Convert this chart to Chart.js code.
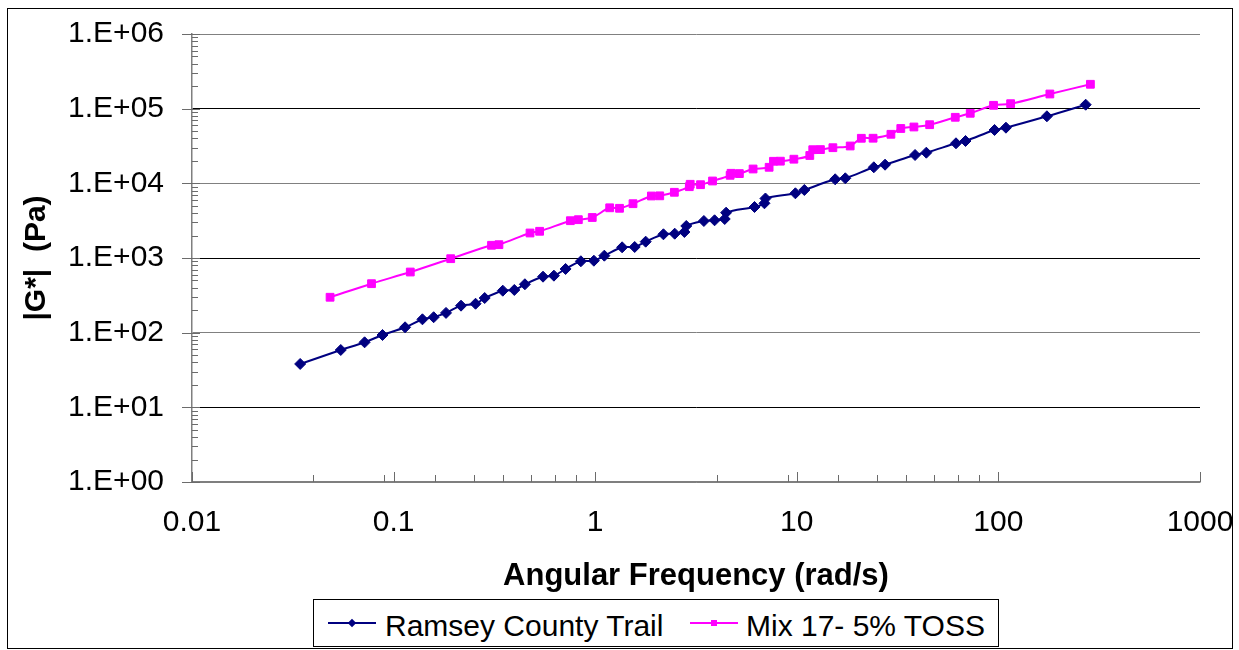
<!DOCTYPE html>
<html>
<head>
<meta charset="utf-8">
<script src="https://cdn.jsdelivr.net/npm/chart.js@4.4.0/dist/chart.umd.min.js"></script>
<style>
    html, body { margin: 0; padding: 0; background: #fff; }
    #wrap { position: relative; width: 1239px; height: 650px; overflow: hidden; font-family: 'Liberation Sans', Arial, sans-serif; }
    #box { position: absolute; left: 0; top: 0; width: 1239px; height: 650px; }
    #frame { position: absolute; left: 7px; top: 8px; width: 1226px; height: 641px; border: 1.5px solid #000; box-sizing: border-box; pointer-events: none; }
    #legend { position: absolute; left: 313px; top: 599px; width: 686px; height: 48px; border: 1px solid #000; box-sizing: border-box; background: #fff; }
    .item { position: absolute; top: 0; height: 46px; display: flex; align-items: center; font-size: 30px; color: #000; white-space: nowrap; }
    .item span { position: relative; top: 3px; }
    .sym { position: relative; width: 48px; height: 2px; }
    .sym i { position: absolute; left: 50%; top: 50%; width: 6px; height: 6px; margin: -3px 0 0 -3px; }
</style>
</head>
<body>
<div id="wrap">
    <div id="box"><canvas id="chart"></canvas></div>
    <div id="frame"></div>
    <div id="legend">
        <div class="item" style="left:14px">
            <div class="sym" style="background:#000080;margin-right:9px"><i style="background:#000080;transform:rotate(45deg)"></i></div>
            <span>Ramsey County Trail</span>
        </div>
        <div class="item" style="left:376px">
            <div class="sym" style="background:#ff00ff;margin-right:8px"><i style="background:#ff00ff"></i></div>
            <span>Mix 17- 5% TOSS</span>
        </div>
    </div>
</div>
<script>
// angular frequency (rad/s) and |G*| (Pa)
const ramseyFreq = [0.0344, 0.0547, 0.0718, 0.0881, 0.114, 0.139, 0.158, 0.182, 0.216, 0.255,
    0.283, 0.348, 0.397, 0.448, 0.551, 0.624, 0.713, 0.849, 0.985, 1.11,
    1.36, 1.57, 1.78, 2.18, 2.48, 2.77, 2.83, 3.46, 3.91, 4.39,
    4.46, 6.17, 6.91, 6.99, 9.84, 10.9, 15.5, 17.4, 24.1, 27.4,
    38.6, 43.9, 61.6, 68.7, 95.7, 109, 174, 271];
const ramseyG = [38.1, 58.6, 74.3, 93.1, 118, 151, 161, 184, 230, 244,
    291, 365, 373, 445, 562, 580, 713, 904, 920, 1074,
    1391, 1404, 1654, 2078, 2116, 2230, 2684, 3131, 3199, 3330,
    4045, 4822, 5404, 6266, 7357, 8143, 11330, 11680, 16400, 17770,
    23960, 25720, 34380, 36900, 51810, 55630, 79060, 113000];

const tossFreq = [0.0484, 0.0777, 0.121, 0.192, 0.306, 0.333, 0.475, 0.530, 0.753, 0.825,
    0.967, 1.18, 1.32, 1.54, 1.90, 2.09, 2.47, 2.93, 2.96, 3.33,
    3.82, 4.67, 4.72, 5.19, 6.07, 7.29, 7.66, 8.29, 9.67, 11.6,
    12.0, 13.1, 15.1, 18.4, 20.9, 23.9, 29.3, 32.8, 38.1, 45.6,
    61.1, 72.5, 94.6, 115, 180, 286];
const tossG = [298, 453, 649, 979, 1480, 1508, 2162, 2279, 3160, 3260,
    3487, 4702, 4631, 5338, 6767, 6800, 7586, 9016, 9708, 9590,
    10750, 12810, 13630, 13500, 15560, 16400, 19740, 19800, 21050, 23600,
    28220, 28300, 30010, 31630, 40110, 40200, 45380, 54260, 56830, 61000,
    76630, 86700, 110900, 116600, 157200, 212100];

// axis ranges and the (irregular) minor tick marks on the x axis
const xMin = 0.01, xMax = 1000;
const yMin = 1, yMax = 1e6;
const xMinorTicks = [0.04, 0.09, 0.16, 0.25, 0.35, 0.48, 0.63, 0.8, 4, 9, 16, 25, 35, 48, 63, 80];

const FONT = "'Liberation Sans', Arial, sans-serif";

function decadeExp(v) {
    const l = Math.log10(v);
    const e = Math.round(l);
    return Math.abs(l - e) < 1e-6 ? e : null;
}

function toPoints(xs, ys) {
    return xs.map((x, i) => ({ x, y: ys[i] }));
}

// excel style tick marks: majors cross the y axis, minors point inwards
const axisTicks = {
    id: 'axisTicks',
    afterDraw(chart) {
        const { ctx, chartArea: a, scales: { x, y } } = chart;
        ctx.save();
        ctx.strokeStyle = '#6b6b6b';
        ctx.lineWidth = 1;
        ctx.beginPath();
        for (let e = Math.log10(yMin); e <= Math.log10(yMax); e++) {
            const p = Math.round(y.getPixelForValue(Math.pow(10, e))) + 0.5;
            ctx.moveTo(a.left - 10, p); ctx.lineTo(a.left + 8, p);
            if (e < Math.log10(yMax)) {
                for (let m = 2; m <= 9; m++) {
                    const q = Math.round(y.getPixelForValue(m * Math.pow(10, e))) + 0.5;
                    ctx.moveTo(a.left, q); ctx.lineTo(a.left + 6, q);
                }
            }
        }
        for (let e = Math.log10(xMin); e <= Math.log10(xMax); e++) {
            const p = Math.round(x.getPixelForValue(Math.pow(10, e))) + 0.5;
            ctx.moveTo(p, a.bottom); ctx.lineTo(p, a.bottom - 10);
        }
        xMinorTicks.forEach(v => {
            const p = Math.round(x.getPixelForValue(v)) + 0.5;
            ctx.moveTo(p, a.bottom); ctx.lineTo(p, a.bottom - 7);
        });
        ctx.stroke();
        ctx.restore();
    },
};

new Chart(document.getElementById('chart'), {
    type: 'line',
    data: {
        datasets: [{
            label: 'Ramsey County Trail',
            data: toPoints(ramseyFreq, ramseyG),
            borderColor: '#000080',
            backgroundColor: '#000080',
            borderWidth: 2,
            pointStyle: 'rectRot',
            pointRadius: 5.5,
            pointBorderWidth: 1,
            tension: 0.35,
        }, {
            label: 'Mix 17- 5% TOSS',
            data: toPoints(tossFreq, tossG),
            borderColor: '#ff00ff',
            backgroundColor: '#ff00ff',
            borderWidth: 2,
            pointStyle: 'rect',
            pointRadius: 5.5,
            pointBorderWidth: 1,
            tension: 0.35,
        }],
    },
    options: {
        responsive: true, maintainAspectRatio: false,
        animation: false,
        layout: { padding: { left: 0, right: 39, top: 34, bottom: 0 } },
        plugins: { legend: { display: false }, tooltip: { enabled: false } },
        scales: {
            x: {
                type: 'logarithmic', min: xMin, max: xMax,
                afterFit: s => { s.height = 168; s.paddingLeft = 0; s.paddingRight = 0; },
                grid: { drawTicks: false, color: 'rgba(0,0,0,0)' },
                border: { color: '#7f7f7f', width: 1.5 },
                ticks: {
                    autoSkip: false, maxRotation: 0, padding: 23, color: '#000',
                    font: { family: FONT, size: 30 },
                    callback: v => {
                        const e = decadeExp(v);
                        if (e === null) return '';
                        return e < 0 ? Math.pow(10, e).toFixed(-e) : String(Math.pow(10, e));
                    },
                },
                title: {
                    display: true, text: 'Angular Frequency (rad/s)', color: '#000',
                    font: { family: FONT, size: 31, weight: 'bold' },
                    padding: { top: 0, bottom: 55 },
                },
            },
            y: {
                type: 'logarithmic', min: yMin, max: yMax,
                afterFit: s => { s.width = 192; s.paddingTop = 0; s.paddingBottom = 0; },
                grid: {
                    drawTicks: false, lineWidth: 1,
                    color: ctx => {
                        const e = decadeExp(ctx.tick.value);
                        if (e === null) return 'rgba(0,0,0,0)';
                        return e % 2 ? '#000' : '#808080';
                    },
                },
                border: { color: '#7f7f7f', width: 1.5 },
                ticks: {
                    autoSkip: false, padding: 28, color: '#000',
                    font: { family: FONT, size: 30 },
                    callback: v => {
                        const e = decadeExp(v);
                        return e === null ? '' : '1.E+' + String(e).padStart(2, '0');
                    },
                },
                title: {
                    display: true, text: '|G*|  (Pa)', color: '#000',
                    font: { family: FONT, size: 30, weight: 'bold' },
                    padding: { top: 19, bottom: 0 },
                },
            },
        },
    },
    plugins: [axisTicks],
});
</script>
</body>
</html>
